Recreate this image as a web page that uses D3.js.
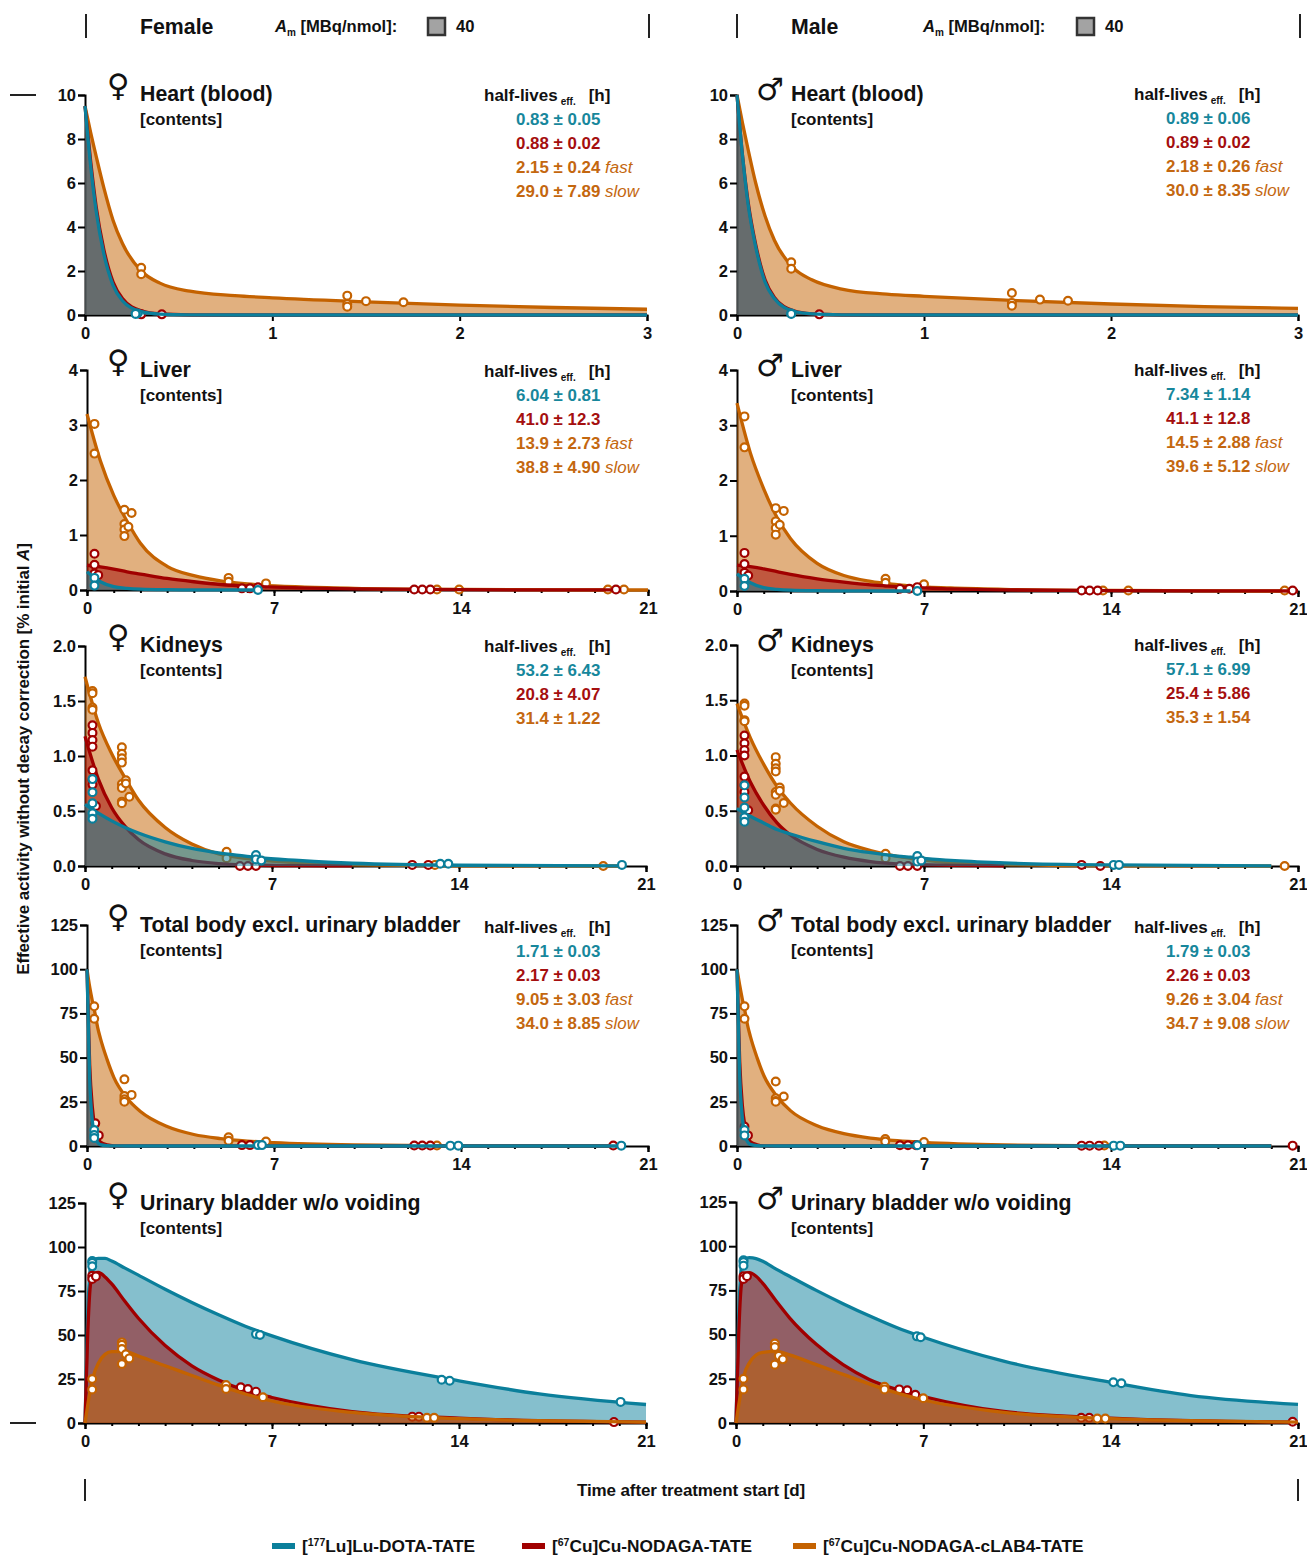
<!DOCTYPE html>
<meta charset="utf-8">
<style>

body {
  margin: 0;
  background: #fff;
}

svg {
  display: block;
}

text {
  font-family: "Liberation Sans", Arial, sans-serif;
  font-weight: bold;
  fill: #111;
}

.axis path, .axis line {
  stroke: #000;
  stroke-width: 2px;
}

.axis text {
  font-size: 16.5px;
  font-family: "Liberation Sans", Arial, sans-serif;
  font-weight: bold;
  fill: #111;
}

.minor text {
  display: none;
}

</style>
<body>
<script src="https://d3js.org/d3.v7.min.js"></script>
<script>

var width = 1307,
    height = 1556;

var colors = { lu: "#0b7f9b", cu: "#a00000", lab: "#c46200" };
var textColors = { lu: "#17879c", cu: "#a50f0f", lab: "#c4670f" };

var seriesNames = ["Lu-DOTA-TATE", "Cu-NODAGA-TATE", "Cu-NODAGA-cLAB4-TATE"];
var seriesIsotopes = ["177", "67", "67"];

// time grids of the fitted curves
var heartT = [0, .03, .06, .1, .15, .2, .3, .4, .56, .8, 1, 1.5, 2, 2.5, 3];
var dayT = [0, .5, 1, 1.5, 2, 3, 4, 5, 6, 6.5, 8, 10, 14, 20, 21];
var totalT = [0, .1, .2, .3, .4, .5, .75, 1, 1.5, 2, 3, 4, 5, 6, 7, 10, 14, 20];
var bladderT = [0, .1, .2, .3, .5, .75, 1, 1.5, 2, 3, 4, 5, 6, 7, 10, 14, 17, 21];

// Heart
var heartFLab = [9.5, 8.3, 7.2, 5.8, 4.3, 3.25, 2, 1.45, 1.08, .88, .78, .6, .45, .34, .26];
var heartFCu = [9.5, 7, 4.9, 3, 1.5, .75, .19, .05, .01, 0, 0, 0, 0, 0, 0];
var heartFLu = [9.5, 6.8, 4.7, 2.8, 1.35, .65, .15, .04, .01, 0, 0, 0, 0, 0, 0];
var heartMLab = [10, 8.7, 7.5, 6, 4.5, 3.4, 2.15, 1.6, 1.18, .95, .85, .65, .5, .38, .3];
var heartMCu = [10, 7.2, 5.1, 3.2, 1.6, .8, .2, .05, .01, 0, 0, 0, 0, 0, 0];
var heartMLu = [10, 7.2, 5, 3.1, 1.5, .75, .18, .05, .01, 0, 0, 0, 0, 0, 0];
var heartFLabPts = [[.3, 2.15], [.3, 1.85], [1.4, .88], [1.4, .5], [1.4, .38], [1.5, .63], [1.7, .58]];
var heartFCuPts = [[.3, .03], [.41, .03]];
var heartFLuPts = [[.28, .07], [.27, .05]];
var heartMLabPts = [[.29, 2.4], [.29, 2.1], [1.47, 1], [1.47, .55], [1.47, .42], [1.62, .7], [1.77, .65]];
var heartMCuPts = [[.44, .03]];
var heartMLuPts = [[.29, .07], [.29, .05]];

// Liver
var liverFLab = [3.2, 2.35, 1.72, 1.25, .85, .43, .26, .165, .11, .09, .055, .03, .01, 0, 0];
var liverFCu = [.45, .42, .38, .33, .29, .21, .15, .1, .07, .06, .04, .02, .005, .001];
var liverFLu = [.33, .15, .06, .03, .015, .005, .002, .001, 0, 0];
var liverMLab = [3.4, 2.5, 1.85, 1.33, .95, .5, .28, .175, .115, .09, .055, .03, .01, 0, 0];
var liverMCu = [.47, .44, .4, .35, .3, .22, .16, .11, .08, .065, .04, .02, .005, .001, 0];
var liverMLu = [.31, .15, .06, .03, .015, .005, .002, .001, 0, 0];
var liverFLabPts = [[.28, 3.02], [.28, 2.48], [1.4, 1.46], [1.4, 1.2], [1.4, 1.1], [1.4, .98], [1.67, 1.4], [1.55, 1.15], [5.3, .22], [5.3, .15], [6.7, .12], [13.1, .01], [13.93, .01], [19.5, .01], [20.1, .01]];
var liverFCuPts = [[.28, .66], [.28, .46], [.28, .3], [.42, .27], [5.8, .03], [6.1, .03], [6.4, .05], [12.25, .01], [12.55, .01], [12.85, .01], [19.8, .01]];
var liverFLuPts = [[.28, .22], [.28, .08], [6.4, 0]];
var liverMLabPts = [[.28, 3.16], [.28, 2.6], [1.45, 1.5], [1.45, 1.26], [1.45, 1.14], [1.45, 1.02], [1.6, 1.2], [1.75, 1.45], [5.56, .22], [5.56, .15], [7, .12], [13.7, .01], [14.65, .01], [20.5, .01]];
var liverMCuPts = [[.28, .69], [.28, .49], [.28, .33], [.42, .28], [6.1, .04], [6.45, .04], [6.75, .07], [12.9, .01], [13.2, .01], [13.5, .01], [20.8, .01]];
var liverMLuPts = [[.28, .22], [.28, .09], [6.75, 0]];

// Kidneys
var kidneysFLab = [1.72, 1.3, 1.02, .8, .6, .35, .2, .11, .07, .055, .03, .01, .001, 0];
var kidneysFCu = [1.18, .79, .53, .36, .24, .11, .05, .022, .01, .007, .003, .001];
var kidneysFLu = [.56, .48, .41, .35, .3, .22, .16, .12, .09, .075, .05, .025, .007, .002];
var kidneysMLab = [1.47, 1.16, .92, .72, .57, .36, .22, .14, .087, .07, .03, .013, .002, 0];
var kidneysMCu = [1.05, .76, .55, .39, .28, .15, .08, .04, .02, .015, .006, .002];
var kidneysMLu = [.52, .45, .39, .33, .29, .22, .16, .12, .09, .08, .05, .028, .01, .002];
var kidneysFLabPts = [[.28, 1.59], [.28, 1.57], [.28, 1.44], [.28, 1.42], [1.38, 1.08], [1.38, 1.02], [1.38, .98], [1.38, .94], [1.38, .745], [1.38, .71], [1.38, .585], [1.38, .57], [1.53, .78], [1.53, .75], [1.66, .63], [5.3, .13], [5.3, .07], [13.1, .01], [19.4, 0]];
var kidneysFCuPts = [[.28, 1.28], [.28, 1.21], [.28, 1.145], [.28, 1.085], [.28, .87], [.28, .78], [.28, .74], [.41, .545], [5.8, 0], [6.1, 0], [6.4, 0], [12.25, .01], [12.85, .01]];
var kidneysFLuPts = [[.28, .79], [.28, .67], [.28, .57], [.28, .48], [.28, .43], [6.4, .1], [6.4, .06], [6.6, .05], [13.3, .02], [13.6, .02], [20.1, .01]];
var kidneysMLabPts = [[.28, 1.47], [.28, 1.45], [.28, 1.32], [.28, 1.31], [1.45, .985], [1.45, .925], [1.45, .885], [1.45, .855], [1.45, .67], [1.45, .645], [1.45, .52], [1.45, .51], [1.6, .71], [1.6, .68], [1.75, .57], [5.56, .11], [5.56, .07], [20.5, 0]];
var kidneysMCuPts = [[.28, 1.18], [.28, 1.11], [.28, 1.05], [.28, 1], [.28, .81], [.28, .73], [.28, .67], [.42, .505], [6.1, 0], [6.4, 0], [6.75, 0], [12.9, .01], [13.6, 0]];
var kidneysMLuPts = [[.28, .73], [.28, .62], [.28, .53], [.28, .44], [.28, .4], [6.75, .09], [6.75, .04], [6.9, .05], [14.1, .01], [14.3, .01]];

// Total body
var totalFLab = [100, 90, 82, 75, 67, 61, 49, 39, 27, 19.5, 11, 6.5, 4.2, 2.8, 1.9, .6, .1, 0];
var totalFCu = [100, 46, 22, 10, 4.7, 2.2, .6, .1, 0, 0, 0, 0, 0, 0, 0, 0, 0, 0];
var totalFLu = [100, 38, 14, 5.4, 2, .8, .2, .03, 0, 0, 0, 0, 0, 0, 0, 0, 0, 0];
var totalMLab = [100, 91, 83, 76, 68, 62, 50, 40, 28, 20, 11.5, 7, 4.5, 3, 2, .6, .1, 0];
var totalMCu = [100, 48, 23, 11, 5, 2.4, .7, .1, 0, 0, 0, 0, 0, 0, 0, 0, 0, 0];
var totalMLu = [100, 40, 16, 6, 2.3, .9, .2, .03, 0, 0, 0, 0, 0, 0, 0, 0, 0, 0];
var totalFLabPts = [[.27, 79], [.27, 72], [1.4, 37.7], [1.4, 28.3], [1.4, 26.4], [1.4, 25], [1.67, 28.9], [5.3, 4.9], [5.3, 3], [6.7, 2.5], [13.1, .3]];
var totalFCuPts = [[.31, 12.8], [.44, 6], [5.8, .5], [6.1, .5], [12.25, .3], [12.55, .3], [12.85, .3], [19.7, .3]];
var totalFLuPts = [[.27, 9], [.27, 6.2], [.27, 4.5], [6.4, .5], [6.55, .5], [13.6, .2], [13.9, .2], [20, .2]];
var totalMLabPts = [[.28, 79], [.28, 72], [1.45, 36.5], [1.45, 27], [1.45, 25.5], [1.45, 25], [1.75, 28], [5.55, 4], [5.55, 2.5], [7, 2.2], [13.75, .3]];
var totalMCuPts = [[.28, 11], [.41, 6], [6.1, .4], [6.4, .4], [6.7, .4], [12.9, .2], [13.2, .2], [13.55, .2], [20.8, .2]];
var totalMLuPts = [[.28, 9], [.28, 6], [6.75, .4], [14.1, .2], [14.35, .2]];

// Urinary bladder
var bladderFLu = [0, 60, 88, 92.5, 93.5, 93.5, 92, 88, 84, 76, 68.5, 61.5, 55, 49.5, 36, 24, 16.5, 10.5];
var bladderFCu = [0, 50, 78, 84.5, 85.5, 83, 79, 69, 59.5, 44, 32.5, 24.5, 18.5, 14.5, 6.5, 2.8, 1.3, .5];
var bladderFLab = [0, 10, 19, 26, 34, 39, 40.5, 40.5, 38, 32.5, 27, 21.5, 16.5, 12.5, 6, 2.5, 1.3, .5];
var bladderMLu = [0, 60, 88, 92.5, 93.5, 93, 91.5, 87, 83, 75, 67.5, 60.5, 54, 48.5, 35, 23, 15.5, 10.5];
var bladderMCu = [0, 50, 78, 84, 85, 83, 79, 69, 59.5, 44.5, 33, 24.5, 19, 15, 6.5, 2.8, 1.3, .5];
var bladderMLab = [0, 10, 19, 27, 34, 38.5, 40, 40.5, 38.5, 33, 27.5, 22, 17, 13, 6, 2.5, 1.3, .5];
var bladderFLuPts = [[.27, 92], [.27, 91], [.27, 89], [6.4, 50.5], [6.55, 50], [13.35, 24.6], [13.65, 24], [20.05, 12]];
var bladderFCuPts = [[.27, 83.7], [.27, 81.8], [.41, 83.3], [5.83, 20.3], [6.1, 19.3], [6.4, 17.8], [12.25, 3.6], [12.5, 3.6], [19.8, .5]];
var bladderFLabPts = [[.27, 25], [.27, 19], [1.38, 45.8], [1.38, 44.5], [1.38, 42], [1.38, 33.5], [1.53, 39], [1.66, 36.7], [5.28, 21.6], [5.28, 19.3], [6.66, 14.6], [12.8, 3], [13.07, 3]];
var bladderMLuPts = [[.28, 92], [.28, 91], [.28, 89], [6.76, 49], [6.9, 48.5], [14.1, 23], [14.4, 22.5]];
var bladderMCuPts = [[.28, 83], [.28, 81.5], [.41, 83], [6.1, 19], [6.4, 18.5], [6.7, 16], [12.9, 3], [13.2, 3], [20.8, .7]];
var bladderMLabPts = [[.28, 25], [.28, 19], [1.45, 45], [1.45, 43], [1.45, 33], [1.6, 38], [1.75, 36], [5.55, 20.5], [5.55, 19], [7, 14], [13.5, 2.5], [13.8, 2.5]];

// half-lives tables
var heartFHalf = ["0.83 ± 0.05", "0.88 ± 0.02", "2.15 ± 0.24", "29.0 ± 7.89"];
var heartMHalf = ["0.89 ± 0.06", "0.89 ± 0.02", "2.18 ± 0.26", "30.0 ± 8.35"];
var liverFHalf = ["6.04 ± 0.81", "41.0 ± 12.3", "13.9 ± 2.73", "38.8 ± 4.90"];
var liverMHalf = ["7.34 ± 1.14", "41.1 ± 12.8", "14.5 ± 2.88", "39.6 ± 5.12"];
var kidneysFHalf = ["53.2 ± 6.43", "20.8 ± 4.07", "31.4 ± 1.22"];
var kidneysMHalf = ["57.1 ± 6.99", "25.4 ± 5.86", "35.3 ± 1.54"];
var totalFHalf = ["1.71 ± 0.03", "2.17 ± 0.03", "9.05 ± 3.03", "34.0 ± 8.85"];
var totalMHalf = ["1.79 ± 0.03", "2.26 ± 0.03", "9.26 ± 3.04", "34.7 ± 9.08"];

var dayTicks = [0, 7, 14, 21];
var dayMinor = d3.range(0, 22);
var heartTicks = [0, 1, 2, 3];

var rows = [
  { title: "Heart (blood)", t: heartT, xMax: 3, xTicks: heartTicks, xMinor: [], yMax: 10, yTicks: [0, 2, 4, 6, 8, 10], fmt: d3.format("d"), order: ["lab", "cu", "lu"],
    F: { x0: 85, x1: 647, top: 95, bottom: 315, lab: heartFLab, cu: heartFCu, lu: heartFLu, labPts: heartFLabPts, cuPts: heartFCuPts, luPts: heartFLuPts, half: heartFHalf, titleY: 101, halfY: 95 },
    M: { x0: 737, x1: 1298, top: 95, bottom: 315, lab: heartMLab, cu: heartMCu, lu: heartMLu, labPts: heartMLabPts, cuPts: heartMCuPts, luPts: heartMLuPts, half: heartMHalf, titleY: 101, halfY: 94 } },
  { title: "Liver", t: dayT, xMax: 21, xTicks: dayTicks, xMinor: dayMinor, yMax: 4, yTicks: [0, 1, 2, 3, 4], fmt: d3.format("d"), order: ["lab", "cu", "lu"],
    F: { x0: 87, x1: 648, top: 370, bottom: 590, lab: liverFLab, cu: liverFCu, lu: liverFLu, labPts: liverFLabPts, cuPts: liverFCuPts, luPts: liverFLuPts, half: liverFHalf, titleY: 377, halfY: 371 },
    M: { x0: 737, x1: 1298, top: 370, bottom: 591, lab: liverMLab, cu: liverMCu, lu: liverMLu, labPts: liverMLabPts, cuPts: liverMCuPts, luPts: liverMLuPts, half: liverMHalf, titleY: 377, halfY: 370 } },
  { title: "Kidneys", t: dayT, xMax: 21, xTicks: dayTicks, xMinor: dayMinor, yMax: 2, yTicks: [0, .5, 1, 1.5, 2], fmt: d3.format(".1f"), order: ["lab", "cu", "lu"],
    F: { x0: 85, x1: 646, top: 646, bottom: 866, lab: kidneysFLab, cu: kidneysFCu, lu: kidneysFLu, labPts: kidneysFLabPts, cuPts: kidneysFCuPts, luPts: kidneysFLuPts, half: kidneysFHalf, titleY: 652, halfY: 646 },
    M: { x0: 737, x1: 1298, top: 645, bottom: 866, lab: kidneysMLab, cu: kidneysMCu, lu: kidneysMLu, labPts: kidneysMLabPts, cuPts: kidneysMCuPts, luPts: kidneysMLuPts, half: kidneysMHalf, titleY: 652, halfY: 645 } },
  { title: "Total body excl. urinary bladder", t: totalT, xMax: 21, xTicks: dayTicks, xMinor: dayMinor, yMax: 125, yTicks: [0, 25, 50, 75, 100, 125], fmt: d3.format("d"), order: ["lab", "cu", "lu"],
    F: { x0: 87, x1: 648, top: 925, bottom: 1146, lab: totalFLab, cu: totalFCu, lu: totalFLu, labPts: totalFLabPts, cuPts: totalFCuPts, luPts: totalFLuPts, half: totalFHalf, titleY: 932, halfY: 927 },
    M: { x0: 737, x1: 1298, top: 925, bottom: 1146, lab: totalMLab, cu: totalMCu, lu: totalMLu, labPts: totalMLabPts, cuPts: totalMCuPts, luPts: totalMLuPts, half: totalMHalf, titleY: 932, halfY: 927 } },
  { title: "Urinary bladder w/o voiding", t: bladderT, xMax: 21, xTicks: dayTicks, xMinor: dayMinor, yMax: 125, yTicks: [0, 25, 50, 75, 100, 125], fmt: d3.format("d"), order: ["lu", "cu", "lab"],
    F: { x0: 85, x1: 646, top: 1203, bottom: 1423, lab: bladderFLab, cu: bladderFCu, lu: bladderFLu, labPts: bladderFLabPts, cuPts: bladderFCuPts, luPts: bladderFLuPts, half: null, titleY: 1210 },
    M: { x0: 736, x1: 1298, top: 1202, bottom: 1423, lab: bladderMLab, cu: bladderMCu, lu: bladderMLu, labPts: bladderMLabPts, cuPts: bladderMCuPts, luPts: bladderMLuPts, half: null, titleY: 1210 } }
];

var svg = d3.select("body").append("svg")
    .attr("width", width)
    .attr("height", height);

function drawPanel(row, p, sex) {
  var x = d3.scaleLinear().domain([0, row.xMax]).range([p.x0, p.x1]),
      y = d3.scaleLinear().domain([0, row.yMax]).range([p.bottom, p.top]);

  var g = svg.append("g");

  g.append("g")
      .attr("class", "axis minor")
      .attr("transform", "translate(0," + p.bottom + ")")
      .call(d3.axisBottom(x).tickValues(row.xMinor).tickSize(3).tickFormat(""))
    .select(".domain").remove();

  g.append("g")
      .attr("class", "axis")
      .attr("transform", "translate(0," + p.bottom + ")")
      .call(d3.axisBottom(x).tickValues(row.xTicks).tickSizeOuter(0).tickSize(6).tickPadding(6).tickFormat(d3.format("d")));

  g.append("g")
      .attr("class", "axis")
      .attr("transform", "translate(" + p.x0 + ",0)")
      .call(d3.axisLeft(y).tickValues(row.yTicks).tickSizeOuter(0).tickSize(7).tickPadding(2).tickFormat(row.fmt));

  var area = d3.area().x(function(d) { return x(d[0]); }).y0(y(0)).y1(function(d) { return y(d[1]); }).curve(d3.curveMonotoneX),
      line = d3.line().x(function(d) { return x(d[0]); }).y(function(d) { return y(d[1]); }).curve(d3.curveMonotoneX);

  // drawn back to front, each fill veils the line and dots of the series below
  row.order.forEach(function(key) {
    var pts = p[key].map(function(v, i) { return [row.t[i], v]; });

    g.append("path").datum(pts)
        .attr("d", area)
        .attr("fill", colors[key])
        .attr("fill-opacity", 0.5);

    g.append("path").datum(pts)
        .attr("d", line)
        .attr("fill", "none")
        .attr("stroke", colors[key])
        .attr("stroke-width", 3.3);

    g.selectAll(".pt-" + key)
        .data(p[key + "Pts"])
      .enter().append("circle")
        .attr("class", "pt-" + key)
        .attr("cx", function(d) { return x(d[0]); })
        .attr("cy", function(d) { return y(d[1]); })
        .attr("r", 3.9)
        .attr("fill", "#fff")
        .attr("stroke", colors[key])
        .attr("stroke-width", 2.2);
  });

  var left = sex === "F" ? 140 : 791;

  g.append("text")
      .attr("x", sex === "F" ? 118 : 770)
      .attr("y", p.titleY + (sex === "F" ? -5 : -1))
      .attr("text-anchor", "middle")
      .style("font-family", "'DejaVu Sans'")
      .style("font-size", "31px")
      .text(sex === "F" ? "\u2640" : "\u2642");

  g.append("text")
      .attr("x", left)
      .attr("y", p.titleY)
      .style("font-size", "21.3px")
      .text(row.title);

  g.append("text")
      .attr("x", left)
      .attr("y", p.titleY + 24)
      .style("font-size", "17px")
      .text("[contents]");

  if (p.half) drawHalfLives(g, p, sex);
}

function drawHalfLives(g, p, sex) {
  var lx = sex === "F" ? 484 : 1134,
      vx = sex === "F" ? 516 : 1166;

  var head = g.append("text")
      .attr("x", lx)
      .attr("y", p.halfY + 6)
      .style("font-size", "17px");
  head.append("tspan").text("half-lives");
  head.append("tspan").attr("dy", 4).attr("dx", 3).style("font-size", "10px").text("eff.");
  head.append("tspan").attr("dy", -4).attr("dx", 13).text("[h]");

  var keys = ["lu", "cu", "lab", "lab"],
      notes = p.half.length === 4 ? ["", "", " fast", " slow"] : ["", "", ""];

  p.half.forEach(function(s, i) {
    var t = g.append("text")
        .attr("x", vx)
        .attr("y", p.halfY + 30 + i * 24)
        .style("font-size", "16.9px")
        .style("fill", textColors[keys[i]])
        .text(s);
    if (notes[i]) {
      t.append("tspan")
          .style("font-weight", "normal")
          .style("font-style", "italic")
          .text(notes[i]);
    }
  });
}

rows.forEach(function(row) {
  drawPanel(row, row.F, "F");
  drawPanel(row, row.M, "M");
});

// frame marks
var marks = [
  [86, 14, 86, 38], [649, 14, 649, 38], [737, 14, 737, 38], [1300, 14, 1300, 38],
  [10, 95, 36, 95], [10, 1423, 36, 1423],
  [85, 1479, 85, 1501], [1298, 1479, 1298, 1501]
];

svg.selectAll(".mark")
    .data(marks)
  .enter().append("line")
    .attr("class", "mark")
    .attr("x1", function(d) { return d[0]; })
    .attr("y1", function(d) { return d[1]; })
    .attr("x2", function(d) { return d[2]; })
    .attr("y2", function(d) { return d[3]; })
    .attr("stroke", "#222")
    .attr("stroke-width", 2);

// header
[["Female", 140, 275, 428, 456], ["Male", 791, 923, 1077, 1105]].forEach(function(h) {
  svg.append("text").attr("x", h[1]).attr("y", 34).style("font-size", "21.3px").text(h[0]);

  var am = svg.append("text").attr("x", h[2]).attr("y", 32).style("font-size", "16.6px");
  am.append("tspan").style("font-style", "italic").text("A");
  am.append("tspan").attr("dy", 4).style("font-size", "10px").text("m");
  am.append("tspan").attr("dy", -4).text(" [MBq/nmol]:");

  svg.append("rect")
      .attr("x", h[3]).attr("y", 18).attr("width", 17).attr("height", 17)
      .attr("fill", "#a3a3a3").attr("stroke", "#333").attr("stroke-width", 2.5);

  svg.append("text").attr("x", h[4]).attr("y", 32).style("font-size", "16.6px").text("40");
});

// axis titles
var yTitle = svg.append("text")
    .attr("transform", "translate(29,759) rotate(-90)")
    .attr("text-anchor", "middle")
    .style("font-size", "17px")
    .style("letter-spacing", "-0.1px");
yTitle.append("tspan").text("Effective activity without decay correction [% initial ");
yTitle.append("tspan").style("font-style", "italic").text("A");
yTitle.append("tspan").text("]");

svg.append("text")
    .attr("x", 691)
    .attr("y", 1496)
    .attr("text-anchor", "middle")
    .style("font-size", "17px")
    .style("letter-spacing", "-0.1px")
    .text("Time after treatment start [d]");

// legend
var legendX = [272, 522, 793],
    legendKeys = ["lu", "cu", "lab"];

seriesNames.forEach(function(name, i) {
  svg.append("rect")
      .attr("x", legendX[i]).attr("y", 1543)
      .attr("width", 23).attr("height", 6)
      .attr("fill", colors[legendKeys[i]]);

  var t = svg.append("text")
      .attr("x", legendX[i] + 30)
      .attr("y", 1552)
      .style("font-size", "17.3px");
  t.append("tspan").text("[");
  t.append("tspan").attr("dy", -6).style("font-size", "10.5px").text(seriesIsotopes[i]);
  t.append("tspan").attr("dy", 6).text(i === 0 ? "Lu]" + name : "Cu]" + name);
});

</script>
